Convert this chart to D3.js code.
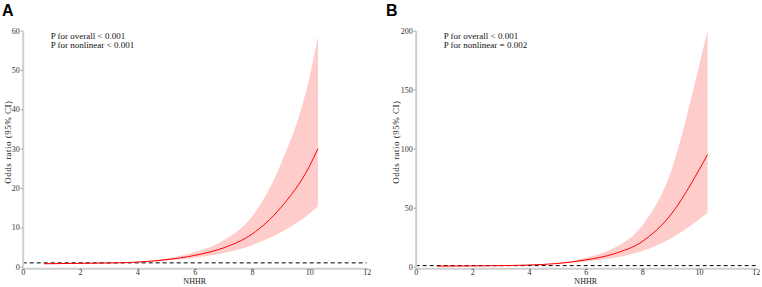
<!DOCTYPE html>
<html>
<head>
<meta charset="utf-8">
<script src="https://cdn.jsdelivr.net/npm/d3@7"></script>
<style>
  body { margin: 0; background: #fff; }
  svg { display: block; }
  .tick text { font-family: "Liberation Serif", "Times New Roman", serif; font-size: 8px; fill: #333; }
</style>
</head>
<body>
<div id="chart"></div>
<script>
// panel A
const nhhrA  = [0.75, 1, 2, 3, 3.5, 4, 5, 6, 7, 8, 9, 10, 10.3];
const orA    = [0.78, 0.8, 0.88, 0.97, 1.03, 1.2, 1.8, 2.9, 4.8, 8.3, 15, 25.5, 30];
const lowerA = [0.6, 0.65, 0.8, 0.93, 1.0, 1.12, 1.55, 2.3, 3.5, 5.5, 8.7, 13.5, 15.3];
const upperA = [1.0, 0.98, 0.97, 1.02, 1.06, 1.28, 2.1, 3.7, 6.7, 12.8, 26, 48, 58.5];
const yTicksA = [0, 10, 20, 30, 40, 50, 60];

// panel B
const nhhrB  = [0.75, 1, 2, 3, 4, 5, 6, 7, 8, 9, 10, 10.3];
const orB    = [0.55, 0.6, 0.75, 1.0, 1.5, 2.8, 5.8, 11, 21.5, 44, 82, 95];
const lowerB = [0.4, 0.45, 0.65, 0.95, 1.35, 2.35, 4.4, 7.7, 13.3, 24, 40, 45.6];
const upperB = [0.75, 0.8, 0.87, 1.05, 1.65, 3.3, 7.6, 16, 35, 80, 170, 200];
const yTicksB = [0, 50, 100, 150, 200];

const xTicks = [0, 2, 4, 6, 8, 10, 12];
const pTextA = ["P for overall < 0.001", "P for nonlinear < 0.001"];
const pTextB = ["P for overall < 0.001", "P for nonlinear = 0.002"];

const width = 762, height = 287;
const serif = "Liberation Serif, Times New Roman, serif";

const svg = d3.select("#chart")
  .append("svg")
    .attr("width", width)
    .attr("height", height);

function drawPanel(opt) {
  const g = svg.append("g");

  const x = d3.scaleLinear().domain([0, 12]).range([opt.left, opt.right]);
  const y = d3.scaleLinear().domain([0, opt.yMax]).range([266.8, 30.5]);

  const rows = opt.xs.map((v, i) => ({ x: v, or: opt.or[i], lo: opt.lo[i], hi: opt.hi[i] }));

  // CI band
  g.append("path")
    .datum(rows)
    .attr("fill", "#ffcccc")
    .attr("d", d3.area()
      .x(d => x(d.x))
      .y0(d => y(d.lo))
      .y1(d => y(d.hi))
      .curve(d3.curveMonotoneX));

  // reference line at OR = 1
  g.append("line")
    .attr("x1", x(0)).attr("x2", x(12))
    .attr("y1", y(1)).attr("y2", y(1))
    .attr("stroke", "#000")
    .attr("stroke-width", 1)
    .attr("stroke-dasharray", "4,3");

  // OR curve
  g.append("path")
    .datum(rows)
    .attr("fill", "none")
    .attr("stroke", "#ff0000")
    .attr("stroke-width", 1)
    .attr("d", d3.line()
      .x(d => x(d.x))
      .y(d => y(d.or))
      .curve(d3.curveMonotoneX));

  // axes
  const yAxis = g.append("g")
    .attr("transform", `translate(${opt.left},0)`)
    .call(d3.axisLeft(y).tickValues(opt.yTicks).tickSize(2).tickSizeOuter(0).tickPadding(1));
  const xAxis = g.append("g")
    .attr("transform", `translate(0,268.3)`)
    .call(d3.axisBottom(x).tickValues(xTicks).tickSize(1.5).tickSizeOuter(0).tickPadding(0));

  [yAxis, xAxis].forEach(a => {
    a.select(".domain").attr("stroke", "#cfcfcf").attr("stroke-width", 2);
    a.selectAll(".tick line").attr("stroke", "#999");
  });

  // axis titles
  g.append("text")
    .attr("x", (opt.left + opt.right) / 2)
    .attr("y", 284)
    .attr("text-anchor", "middle")
    .style("font-family", serif)
    .style("font-size", "8px")
    .attr("fill", "#222")
    .text("NHHR");

  g.append("text")
    .attr("transform", `translate(${opt.labelX},142) rotate(-90)`)
    .attr("text-anchor", "middle")
    .style("font-family", serif)
    .style("font-size", "9px")
    .style("letter-spacing", "0.5px")
    .attr("fill", "#222")
    .text("Odds ratio (95% CI)");

  // p values
  g.selectAll(".ptext")
    .data(opt.pText)
    .enter().append("text")
    .attr("x", opt.left + 28)
    .attr("y", (d, i) => 39 + i * 8.5)
    .style("font-family", serif)
    .style("font-size", "9px")
    .attr("fill", "#111")
    .text(d => d);

  // panel letter
  g.append("text")
    .attr("x", opt.letterX)
    .attr("y", 16)
    .style("font-family", "Liberation Sans, Arial, sans-serif")
    .style("font-weight", "bold")
    .style("font-size", "16px")
    .attr("fill", "#000")
    .text(opt.letter);
}

drawPanel({ letter: "A", letterX: 2, left: 22.7, right: 366.7, labelX: 11.3, yMax: 60, yTicks: yTicksA,
  xs: nhhrA, or: orA, lo: lowerA, hi: upperA, pText: pTextA });
drawPanel({ letter: "B", letterX: 386, left: 415.7, right: 755.7, labelX: 398.5, yMax: 200, yTicks: yTicksB,
  xs: nhhrB, or: orB, lo: lowerB, hi: upperB, pText: pTextB });
</script>
</body>
</html>
